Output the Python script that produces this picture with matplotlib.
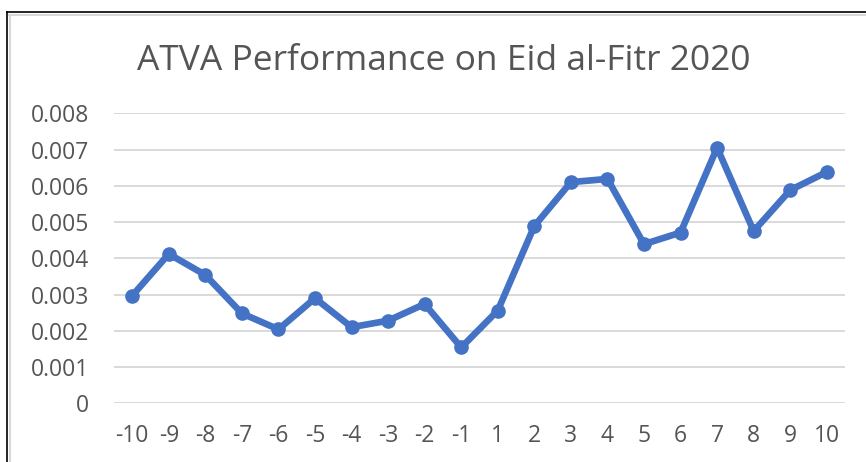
import numpy as np
import matplotlib.pyplot as plt
from matplotlib.lines import Line2D

# Data
days = ["-10", "-9", "-8", "-7", "-6", "-5", "-4", "-3", "-2", "-1",
        "1", "2", "3", "4", "5", "6", "7", "8", "9", "10"]
performance = [0.00297, 0.00412, 0.00354, 0.00248, 0.00204, 0.00290,
               0.00210, 0.00228, 0.00274, 0.00154, 0.00256, 0.00489,
               0.00610, 0.00619, 0.00439, 0.00471, 0.00705, 0.00475,
               0.00588, 0.00638]
y_ticks = [0, 0.001, 0.002, 0.003, 0.004, 0.005, 0.006, 0.007, 0.008]
y_tick_labels = ["0", "0.001", "0.002", "0.003", "0.004", "0.005",
                 "0.006", "0.007", "0.008"]

title = "ATVA Performance on Eid al-Fitr 2020"
text_color = "#555555"
line_color = "#4472C4"
grid_color = "#d9d9d9"

plt.rcParams['font.family'] = ['Open Sans', 'DejaVu Sans']

fig = plt.figure(figsize=(8.66, 4.62), dpi=100)
ax = fig.add_axes([0.1316, 0.1270, 0.8442, 0.6278])

x = np.arange(len(days))
ax.plot(x, performance, color=line_color, linewidth=4.8,
        marker="o", markersize=9.5, solid_capstyle="round",
        solid_joinstyle="round", zorder=3)

# Axes formatting
ax.set_xlim(-0.5, len(days) - 0.5)
ax.set_ylim(0, 0.008)
ax.set_xticks(x)
ax.set_xticklabels(days)
ax.set_yticks(y_ticks)
ax.set_yticklabels(y_tick_labels)
ax.tick_params(axis="both", length=0, labelsize=16.5, colors=text_color)
ax.tick_params(axis="y", pad=18)
ax.tick_params(axis="x", pad=15)
ax.yaxis.grid(True, color=grid_color, linewidth=1.4, zorder=0)
ax.set_axisbelow(True)
for spine in ax.spines.values():
    spine.set_visible(False)

# Title
fig.text(0.512, 0.868, title, ha="center", va="center",
         fontsize=25.5, color=text_color)

# Frame from the screenshot (top and left edges only)
W, H = 866, 462
fig.add_artist(Line2D([7 / W, 1], [1 - 12 / H, 1 - 12 / H],
                      color="black", linewidth=1.2))
fig.add_artist(Line2D([7 / W, 7 / W], [0, 1 - 12 / H],
                      color="black", linewidth=1.2))
fig.add_artist(Line2D([9 / W, 1], [1 - 14.5 / H, 1 - 14.5 / H],
                      color="#d9d9d9", linewidth=1.5))
fig.add_artist(Line2D([9.5 / W, 9.5 / W], [0, 1 - 14.5 / H],
                      color="#d9d9d9", linewidth=1.5))

fig.savefig("out.png", dpi=100)
